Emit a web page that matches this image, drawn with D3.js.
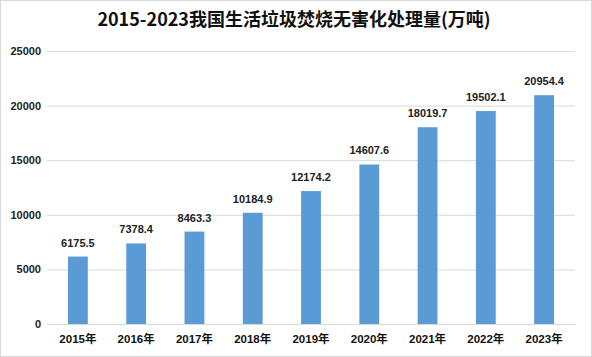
<!DOCTYPE html>
<html><head><meta charset="utf-8">
<script src="https://cdn.jsdelivr.net/npm/d3@7"></script>
<style>
body{margin:0;background:#fff;}
svg{display:block;}
</style></head>
<body>
<script>
const categories = ["2015年","2016年","2017年","2018年","2019年","2020年","2021年","2022年","2023年"];
const values = [6175.5,7378.4,8463.3,10184.9,12174.2,14607.6,18019.7,19502.1,20954.4];
const valueLabels = ["6175.5","7378.4","8463.3","10184.9","12174.2","14607.6","18019.7","19502.1","20954.4"];
const yTicks = [0,5000,10000,15000,20000,25000];
const title = "2015-2023我国生活垃圾焚烧无害化处理量(万吨)";

const W=592,H=357;
const m={left:47,right:17,top:51,bottom:33};
const svg=d3.select("body").append("svg").attr("width",W).attr("height",H);
svg.append("rect").attr("x",0.5).attr("y",0.5).attr("width",W-1).attr("height",H-1)
  .attr("fill","#fff").attr("stroke","#d9d9d9");

const x=d3.scaleBand().domain(categories).range([m.left,W-m.right]).paddingInner(0.66).paddingOuter(0.36);
const y=d3.scaleLinear().domain([0,25000]).range([H-m.bottom,m.top]);

svg.append("text").attr("x",W/2-2).attr("y",26).attr("text-anchor","middle")
  .attr("font-family","'Noto Sans CJK SC', sans-serif").attr("font-weight","bold").attr("font-size",18)
  .attr("fill","#111").text(title);

const ya=svg.append("g").attr("transform",`translate(${m.left},0)`)
  .call(d3.axisLeft(y).tickValues(yTicks).tickSize(-(W-m.left-m.right)).tickPadding(6).tickFormat(d3.format("d")));
ya.select(".domain").remove();
ya.selectAll(".tick line").attr("stroke","#d9d9d9");
ya.selectAll(".tick text").attr("font-family","'Liberation Sans', sans-serif").attr("font-weight","bold").attr("font-size",11).attr("fill","#222");

svg.selectAll("rect.bar").data(values).join("rect").attr("class","bar")
  .attr("x",(d,i)=>x(categories[i])).attr("width",x.bandwidth())
  .attr("y",d=>y(d)).attr("height",d=>y(0)-y(d)).attr("fill","#5b9bd5");

svg.selectAll("text.val").data(values).join("text").attr("class","val")
  .attr("x",(d,i)=>x(categories[i])+x.bandwidth()/2).attr("y",d=>y(d)-10)
  .attr("text-anchor","middle").attr("font-family","'Liberation Sans', sans-serif")
  .attr("font-weight","bold").attr("font-size",11).attr("fill","#222")
  .text((d,i)=>valueLabels[i]);

const xa=svg.append("g").attr("transform",`translate(0,${H-m.bottom})`)
  .call(d3.axisBottom(x).tickSize(0).tickPadding(11));
xa.select(".domain").attr("stroke","#d9d9d9");
xa.selectAll(".tick text").attr("font-family","'Liberation Sans','Noto Sans CJK SC', sans-serif").attr("font-weight","bold").attr("font-size",11.5).attr("fill","#111");
</script>
</body></html>
